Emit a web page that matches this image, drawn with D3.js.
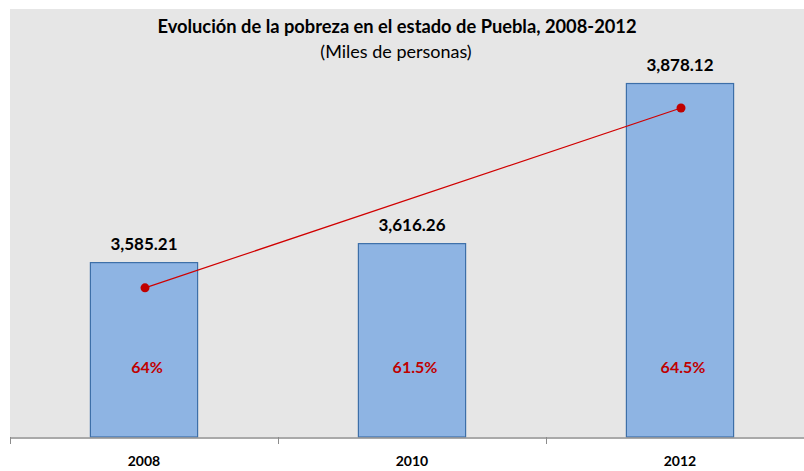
<!DOCTYPE html>
<html><head><meta charset="utf-8">
<script src="https://cdn.jsdelivr.net/npm/d3@7"></script>
<style>body{margin:0;background:#fff}svg{display:block}</style>
</head><body>
<script>
const years = ["2008", "2010", "2012"];
const poblacion = [3585.21, 3616.26, 3878.12];
const porcentaje = ["64%", "61.5%", "64.5%"];
const tendencia = [3544, null, 3838];
const yDomain = [3300, 4000];

const W = 804, H = 471;
const svg = d3.select("body").append("svg").attr("width", W).attr("height", H);
const font = "Lato, 'Open Sans', sans-serif";

const plot = {left: 10, right: 814, top: 9, bottom: 437};
svg.append("rect").attr("x", 10).attr("y", 9).attr("width", W - 10).attr("height", plot.bottom - 9)
  .attr("fill", "#e6e6e6");

const x = d3.scaleBand().domain(years).range([plot.left, plot.right]).paddingInner(0.6).paddingOuter(0.3);
const xb = d3.scaleBand().domain(years).range([plot.left, plot.right]);
const y = d3.scaleLinear().domain(yDomain).range([plot.bottom, plot.top]);

svg.selectAll("rect.bar").data(years).enter().append("rect").attr("class", "bar")
  .attr("x", d => x(d)).attr("width", x.bandwidth())
  .attr("y", (d, i) => y(poblacion[i])).attr("height", (d, i) => plot.bottom - y(poblacion[i]))
  .attr("fill", "#8eb4e3").attr("stroke", "#3d6fa8").attr("stroke-width", 1.2);

// axis
const axis = d3.axisBottom(xb).tickSize(0).tickFormat("");
const ag = svg.append("g").attr("transform", `translate(0,${plot.bottom + 0.5})`).call(axis);
ag.select(".domain").attr("stroke", "#8c8c8c").attr("stroke-width", 1.5);
const bounds = [0, 1, 2].map(i => xb(years[i]));
svg.selectAll("line.tk").data(bounds).enter().append("line").attr("class", "tk")
  .attr("x1", d => d + 0.5).attr("x2", d => d + 0.5).attr("y1", plot.bottom).attr("y2", plot.bottom + 7)
  .attr("stroke", "#8c8c8c").attr("stroke-width", 1);
svg.selectAll("text.yr").data(years).enter().append("text").attr("class", "yr")
  .attr("x", d => xb(d) + xb.bandwidth() / 2).attr("y", 466)
  .attr("text-anchor", "middle").attr("font-family", font).attr("font-weight", "bold")
  .attr("font-size", 14).attr("fill", "#000").text(d => d);

// trend line
const pts = years.map((d, i) => [xb(d) + xb.bandwidth() / 2 + 1, tendencia[i]]).filter(p => p[1] != null);
svg.append("path").datum(pts)
  .attr("d", d3.line().x(p => p[0]).y(p => y(p[1])))
  .attr("fill", "none").attr("stroke", "#d00000").attr("stroke-width", 1.2);
svg.selectAll("circle.pt").data(pts).enter().append("circle").attr("class", "pt")
  .attr("cx", p => p[0]).attr("cy", p => y(p[1])).attr("r", 4.5).attr("fill", "#c00000");

// value labels
svg.selectAll("text.val").data(years).enter().append("text").attr("class", "val")
  .attr("x", d => x(d) + x.bandwidth() / 2).attr("y", (d, i) => y(poblacion[i]) - 12.5)
  .attr("text-anchor", "middle").attr("font-family", font).attr("font-weight", "bold")
  .attr("font-size", 17).attr("fill", "#000").text((d, i) => d3.format(",.2f")(poblacion[i]));

// percent labels
svg.selectAll("text.pct").data(years).enter().append("text").attr("class", "pct")
  .attr("x", d => x(d) + x.bandwidth() / 2 + 3).attr("y", 373)
  .attr("text-anchor", "middle").attr("font-family", font).attr("font-weight", "bold")
  .attr("font-size", 16).attr("fill", "#c00000").text((d, i) => porcentaje[i]);

// titles
svg.append("text").attr("x", 397).attr("y", 33).attr("text-anchor", "middle")
  .attr("font-family", font).attr("font-weight", "bold").attr("font-size", 18.3)
  .text("Evolución de la pobreza en el estado de Puebla, 2008-2012");
svg.append("text").attr("x", 396).attr("y", 58).attr("text-anchor", "middle")
  .attr("font-family", font).attr("font-size", 18)
  .text("(Miles de personas)");
</script>
</body></html>
